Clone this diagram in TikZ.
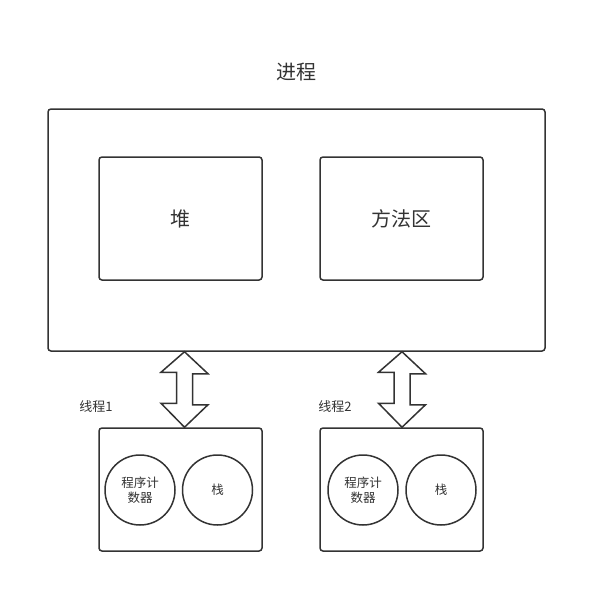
\documentclass[tikz,border=0pt]{standalone}
\usepackage{fontspec}
\setmainfont{Noto Sans CJK SC}
\usetikzlibrary{calc}
\definecolor{ln}{HTML}{333333}
\begin{document}
\begin{tikzpicture}[x=1pt,y=-1pt,
  box/.style={draw=ln,line width=1.5pt,rounded corners=3pt,fill=white,inner sep=0pt},
  circ/.style={draw=ln,line width=1.5pt,circle,minimum size=70pt,inner sep=0pt,align=center,font=\fontsize{12.5}{15.5}\selectfont,text=ln},
  big/.style={font=\fontsize{20}{24}\selectfont,text=ln},
  lbl/.style={font=\fontsize{13}{15}\selectfont,text=ln},
  dbl/.style={draw=ln,line width=1.5pt,fill=white,line join=miter}]
\useasboundingbox (0,0) rectangle (607,613);
\node[big] (title) at (296,72) {进程};
\node[box,minimum width=497pt,minimum height=242pt] (proc) at (296.5,230) {};
\node[box,minimum width=163pt,minimum height=123pt,big] (heap) at (180.5,218.5) {堆};
\node[box,minimum width=163pt,minimum height=123pt,big] (meth) at (401.5,218.5) {方法区};
\node[box,minimum width=163pt,minimum height=123pt] (t1) at (180.5,489.5) {};
\node[box,minimum width=163pt,minimum height=123pt] (t2) at (401.5,489.5) {};
\node[circ] (pc1) at (140,490) {程序计\\数器};
\node[circ] (st1) at (217.5,490) {栈};
\node[circ] (pc2) at (363,490) {程序计\\数器};
\node[circ] (st2) at (441,490) {栈};
\node[lbl] (l1) at (96,407) {线程1};
\node[lbl] (l2) at (335,407) {线程2};
\coordinate (x1) at (184.5,0);
\coordinate (x2) at (402,0);
\coordinate (a1t) at (x1 |- proc.south);
\coordinate (a1b) at (x1 |- t1.north);
\coordinate (a2t) at (x2 |- proc.south);
\coordinate (a2b) at (x2 |- t2.north);
\foreach \t/\b in {a1t/a1b,a2t/a2b}{
  \draw[dbl] (\t) -- ++(23.5,22) -- ++(-15.5,0) -- ++(0,31) -- ++(15.5,0) -- (\b)
    -- ++(-23.5,-24) -- ++(15.5,0) -- ++(0,-31) -- ++(-15.5,0) -- cycle;
}
\end{tikzpicture}
\end{document}
